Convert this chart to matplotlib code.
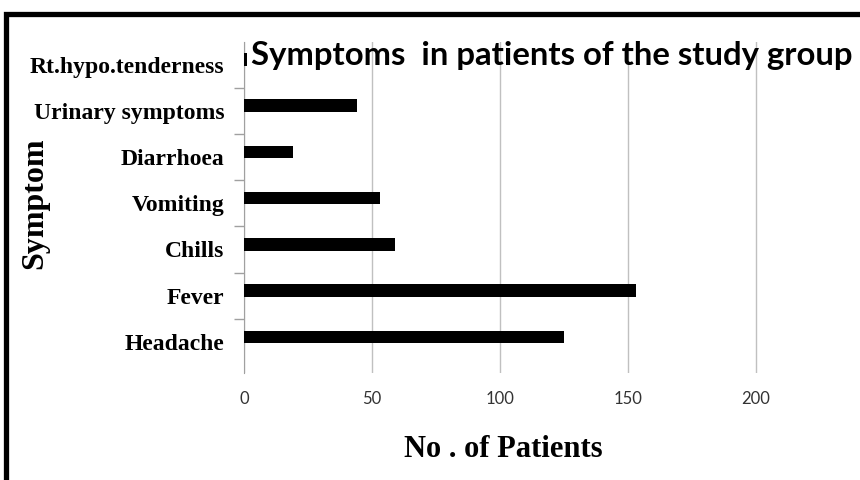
import matplotlib.pyplot as plt
from matplotlib.patches import Rectangle

# data (bottom to top, as drawn)
symptoms = ['Headache', 'Fever', 'Chills', 'Vomiting', 'Diarrhoea',
            'Urinary symptoms', 'Rt.hypo.tenderness']
patients = [125, 153, 59, 53, 19, 44, 1]
x_ticks = [0, 50, 100, 150, 200]

fig = plt.figure(figsize=(8.6, 4.8), dpi=100)
fig.patch.set_facecolor('white')

# outer black frame (cut off at right and bottom in the original)
fig.add_artist(Rectangle((6 / 860, -0.2), 1.5, 0.971 + 0.2, transform=fig.transFigure,
                         fill=False, edgecolor='black', linewidth=3.8, clip_on=False))

ax = fig.add_axes([244 / 860, 1 - 373 / 480, 640 / 860, 331.5 / 480])

pos = list(range(len(symptoms)))
ax.barh([p + 0.11 for p in pos], patients, height=0.27, color='black', zorder=3)

ax.set_xlim(0, 250)
ax.set_ylim(-0.673, 6.5)

ax.set_xticks(x_ticks)
ax.set_xticklabels([str(v) for v in x_ticks], family='Lato', fontsize=12, color='#333333')
ax.tick_params(axis='x', length=0, pad=13)
ax.xaxis.grid(True, color='#c0c0c0', linewidth=1, zorder=0)

ax.set_yticks(pos)
ax.set_yticklabels(symptoms, family='Liberation Serif', fontweight='bold', fontsize=17)
ax.set_yticks([p + 0.5 for p in pos[:-1]], minor=True)
ax.tick_params(axis='y', which='major', length=0, pad=14)
ax.tick_params(axis='y', which='minor', length=7, color='#a0a0a0', width=1)

for s in ['top', 'right', 'bottom']:
    ax.spines[s].set_visible(False)
ax.spines['left'].set_color('#a0a0a0')

fig.text(35 / 860, 1 - 203 / 480, 'Symptom', rotation=90, ha='center', va='center',
         family='Liberation Serif', fontweight='bold', fontsize=23)
fig.text(503 / 860, 1 - 457 / 480, 'No . of Patients', ha='center', va='baseline',
         family='Liberation Serif', fontweight='bold', fontsize=22)
fig.text(251 / 860, 1 - 65 / 480, 'Symptoms  in patients of the study group',
         ha='left', va='baseline', family='Lato', fontweight='bold', fontsize=23.7,
         color='black')

fig.savefig('out.png', dpi=100)
